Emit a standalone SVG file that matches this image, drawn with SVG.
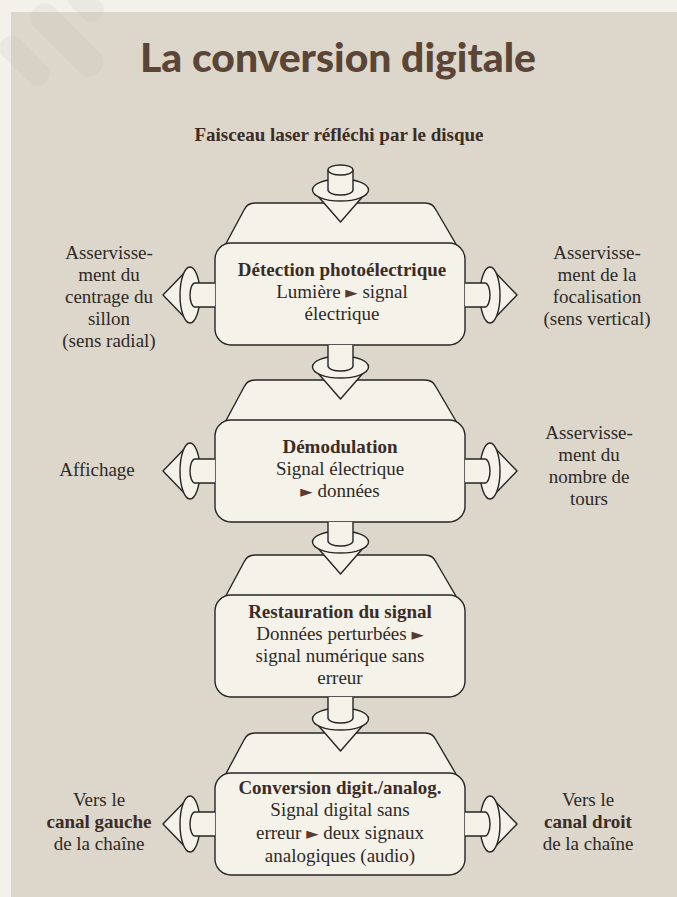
<svg xmlns="http://www.w3.org/2000/svg" width="677" height="897" viewBox="0 0 677 897">
<style>
.sh{fill:#f5f2ea;stroke:#262626;stroke-width:1.4;stroke-linejoin:round}
.t{font-family:'Liberation Serif','DejaVu Serif','Times New Roman',serif;font-size:19px;fill:#2e2a27;text-anchor:middle}
.b{font-weight:bold;fill:#3b2c25}
.ar{fill:#5a3a2c;font-family:'DejaVu Sans',sans-serif;font-size:16px}
</style>
<defs>
<g id="vcon">
<path class="sh" d="M-27,1 L0,32 L27,1 Z"/>
<ellipse class="sh" cx="0" cy="0" rx="28" ry="11"/>
</g>
<g id="hconL">
<path class="sh" d="M-1,-27 L-27,0 L-1,27 Z"/>
<ellipse class="sh" cx="0" cy="0" rx="10" ry="28"/>
<path class="sh" d="M25,-12 L5,-12 A5,12 0 0 0 5,12 L25,12"/>
</g>
<g id="box">
<path class="sh" d="M222,48 L244,7 Q247,0 255,0 L425,0 Q433,0 436,7 L460,48 Z"/>
<rect class="sh" x="215" y="40" width="250" height="102" rx="16"/>
</g>
</defs>
<rect width="677" height="897" fill="#f3f1ea"/>
<rect x="11" y="12" width="666" height="885" fill="#dcd6cb"/>
<g fill="#b5b0a8" opacity="0.12">
<rect x="-14" y="-14" width="28" height="90" rx="12" transform="translate(45,18) rotate(-45)"/>
<rect x="-12" y="-12" width="24" height="60" rx="11" transform="translate(12,48) rotate(-45)"/>
<rect x="-12" y="-12" width="24" height="40" rx="11" transform="translate(80,-2) rotate(-45)"/>
</g>
<text x="338" y="72" font-family="Lato,'Open Sans',sans-serif" font-weight="900" font-size="40" fill="#5b4536" text-anchor="middle" textLength="396" lengthAdjust="spacingAndGlyphs">La conversion digitale</text>
<text class="t b" x="339" y="141" font-size="18.5">Faisceau laser réfléchi par le disque</text>

<g id="n1">
<use href="#box" y="203"/>
<text class="t b" x="342" y="276">Détection photoélectrique</text>
<text class="t" x="342" y="298">Lumière <tspan class="ar">►</tspan> signal</text>
<text class="t" x="342" y="320">électrique</text>
</g>
<g id="n2">
<use href="#box" y="380"/>
<text class="t b" x="340" y="453">Démodulation</text>
<text class="t" x="340" y="475">Signal électrique</text>
<text class="t" x="340" y="497"><tspan class="ar">►</tspan> données</text>
</g>
<g id="n3">
<use href="#box" y="555"/>
<text class="t b" x="340" y="618">Restauration du signal</text>
<text class="t" x="340" y="640">Données perturbées <tspan class="ar">►</tspan></text>
<text class="t" x="340" y="662">signal numérique sans</text>
<text class="t" x="340" y="684">erreur</text>
</g>
<g id="n4">
<use href="#box" y="733"/>
<text class="t b" x="340" y="794">Conversion digit./analog.</text>
<text class="t" x="340" y="816">Signal digital sans</text>
<text class="t" x="340" y="839">erreur <tspan class="ar">►</tspan> deux signaux</text>
<text class="t" x="340" y="862">analogiques (audio)</text>
</g>

<g id="connectors">
<use href="#vcon" x="340.5" y="190"/>
<path class="sh" d="M328,170 L328,190 A12.5,5 0 0 0 353,190 L353,170"/>
<ellipse class="sh" cx="340.5" cy="170" rx="12.5" ry="5"/>

<use href="#vcon" x="340.5" y="367"/>
<path class="sh" d="M328,345 L328,366 A12.5,5 0 0 0 353,366 L353,345"/>
<use href="#vcon" x="340.5" y="542"/>
<path class="sh" d="M328,522 L328,541 A12.5,5 0 0 0 353,541 L353,522"/>
<use href="#vcon" x="340.5" y="719"/>
<path class="sh" d="M328,697 L328,718 A12.5,5 0 0 0 353,718 L353,697"/>

<use href="#hconL" x="190" y="295"/>
<use href="#hconL" transform="translate(490,295) scale(-1,1)"/>
<use href="#hconL" x="190" y="471"/>
<use href="#hconL" transform="translate(490,471) scale(-1,1)"/>
<use href="#hconL" x="190" y="824"/>
<use href="#hconL" transform="translate(490,824) scale(-1,1)"/>
</g>

<g id="l1">
<text class="t" x="109" y="259">Asservisse-</text>
<text class="t" x="109" y="281">ment du</text>
<text class="t" x="109" y="303">centrage du</text>
<text class="t" x="109" y="325">sillon</text>
<text class="t" x="109" y="347">(sens radial)</text>
</g>
<g id="r1">
<text class="t" x="597" y="259">Asservisse-</text>
<text class="t" x="597" y="281">ment de la</text>
<text class="t" x="597" y="303">focalisation</text>
<text class="t" x="597" y="325">(sens vertical)</text>
</g>
<g id="l2">
<text class="t" x="97" y="476">Affichage</text>
</g>
<g id="r2">
<text class="t" x="589" y="439">Asservisse-</text>
<text class="t" x="589" y="461">ment du</text>
<text class="t" x="589" y="483">nombre de</text>
<text class="t" x="589" y="505">tours</text>
</g>
<g id="l4">
<text class="t" x="99" y="806">Vers le</text>
<text class="t b" x="99" y="828">canal gauche</text>
<text class="t" x="99" y="850">de la chaîne</text>
</g>
<g id="r4">
<text class="t" x="588" y="806">Vers le</text>
<text class="t b" x="588" y="828">canal droit</text>
<text class="t" x="588" y="850">de la chaîne</text>
</g>
</svg>
